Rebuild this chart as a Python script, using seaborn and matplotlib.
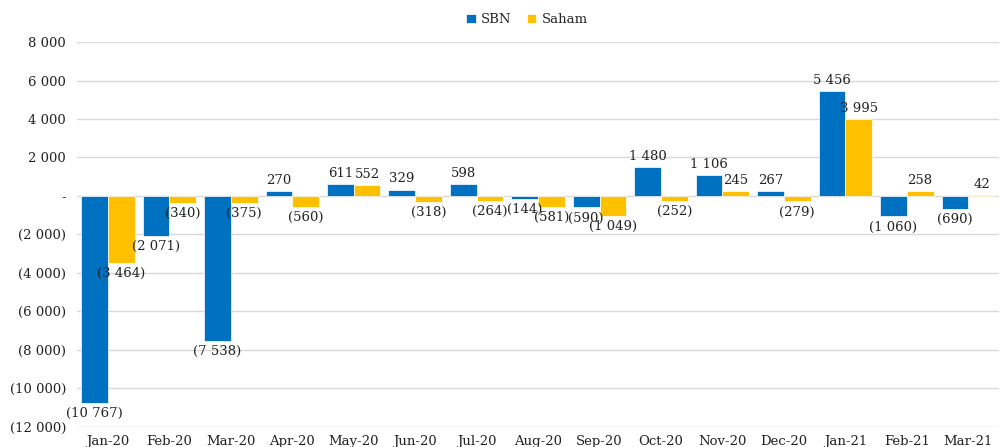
import numpy as np
import pandas as pd
import matplotlib
matplotlib.use("Agg")
import matplotlib.pyplot as plt
import seaborn as sns

# data
months = ["Jan-20", "Feb-20", "Mar-20", "Apr-20", "May-20", "Jun-20", "Jul-20", "Aug-20",
          "Sep-20", "Oct-20", "Nov-20", "Dec-20", "Jan-21", "Feb-21", "Mar-21"]
sbn = [-10767, -2071, -7538, 270, 611, 329, 598, -144, -590, 1480, 1106, 267, 5456, -1060, -690]
saham = [-3464, -340, -375, -560, 552, -318, -264, -581, -1049, -252, 245, -279, 3995, 258, 42]
series_names = ["SBN", "Saham"]
colors = ["#0070C0", "#FFC000"]

df = pd.DataFrame({
    "month": months * 2,
    "value": sbn + saham,
    "series": [series_names[0]] * len(months) + [series_names[1]] * len(months),
})


def fmt(v):
    if v == 0:
        return "-"
    s = f"{abs(v):,.0f}".replace(",", " ")
    return f"({s})" if v < 0 else s


sns.set_theme(style="white")
plt.rcParams["font.family"] = ["DejaVu Serif"]
plt.rcParams["font.size"] = 9

fig = plt.figure(figsize=(10.02, 4.47), dpi=100)
ax = fig.add_axes([0.077, 0.045, 0.92, 0.861])

sns.barplot(data=df, x="month", y="value", hue="series", palette=colors,
            width=0.87, saturation=1, ax=ax, edgecolor="white", linewidth=0.5)

for cont, vals in zip(ax.containers, [sbn, saham]):
    ax.bar_label(cont, labels=[fmt(v) for v in vals], padding=3, fontsize=9.5, color="#222222")

ax.set_ylim(-12000, 8000)
ax.set_yticks(np.arange(-12000, 8001, 2000))
ax.set_yticklabels([fmt(t) for t in np.arange(-12000, 8001, 2000)])
ax.yaxis.grid(True, color="#d9d9d9", linewidth=1)
ax.set_axisbelow(True)
for sp in ax.spines.values():
    sp.set_visible(False)
ax.tick_params(axis="both", length=0, labelsize=9.5, colors="#222222")
ax.tick_params(axis="x", pad=6)
ax.tick_params(axis="y", pad=8)
ax.set_xlabel("")
ax.set_ylabel("")

ax.legend(loc="upper center", bbox_to_anchor=(0.488, 1.105), ncol=2, frameon=False,
          fontsize=9.5, handlelength=0.7, handleheight=0.7, handletextpad=0.4, columnspacing=1.2)

fig.savefig("out.png", dpi=100)
